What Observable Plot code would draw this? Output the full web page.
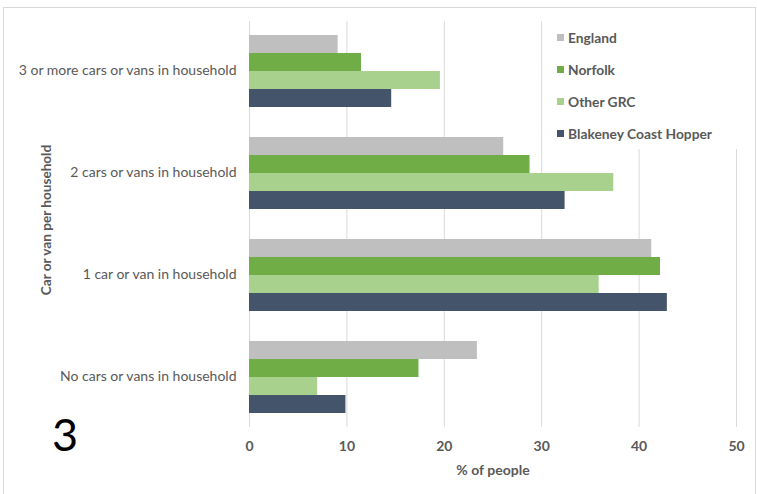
<!DOCTYPE html>
<html><head><meta charset="utf-8">
<script src="https://cdn.jsdelivr.net/npm/d3@7"></script>
<script src="https://cdn.jsdelivr.net/npm/@observablehq/plot@0.6"></script>
<style>
body{margin:0;background:#fff;}
#wrap{position:relative;width:757px;height:494px;overflow:hidden;font-family:Lato, "Open Sans", sans-serif;background:#fff;}
#wrap svg{position:absolute;left:0;top:0;}
#frame{position:absolute;left:3px;top:7px;width:753px;height:500px;border:1px solid #d9d9d9;box-sizing:border-box;}
#ytitle{position:absolute;left:46px;top:220px;transform:translate(-50%,-50%) rotate(-90deg);white-space:nowrap;font-weight:bold;font-size:13.6px;color:#595959;}
#legend{position:absolute;left:547px;top:21px;width:200px;height:128px;background:#fff;}
.li{height:32px;display:flex;align-items:center;padding-left:10px;font-size:13.8px;font-weight:bold;color:#595959;}
.sw{width:7px;height:7px;margin-right:4px;}
#big{position:absolute;left:52px;top:412px;font-size:45px;line-height:45px;color:#000;}
</style></head><body><div id="wrap"><div id="frame"></div></div>
<script>
const categories = ["3 or more cars or vans in household","2 cars or vans in household","1 car or van in household","No cars or vans in household"];
const seriesNames = ["England","Norfolk","Other GRC","Blakeney Coast Hopper"];
const seriesColors = ["#bfbfbf","#70ad47","#a9d18e","#44546a"];
const england  = [9.1, 26.1, 41.3, 23.4];
const norfolk  = [11.5, 28.8, 42.2, 17.4];
const otherGRC = [19.6, 37.4, 35.9, 7.0];
const blakeney = [14.6, 32.4, 42.9, 9.9];
const xTicks = [0, 10, 20, 30, 40, 50];
const xLabel = "% of people";
const yTitle = "Car or van per household";
const panelNumber = "3";

const seriesValues = [england, norfolk, otherGRC, blakeney];
const data = categories.flatMap((c, i) => seriesNames.map((s, j) => ({category: c, series: s, value: seriesValues[j][i]})));

const common = {width: 757, height: 494, marginLeft: 249, marginRight: 21, marginTop: 21, marginBottom: 67,
  style: {background: "transparent", fontFamily: "Lato, 'Open Sans', sans-serif"}};

const wrap = document.getElementById("wrap");

const gridPlot = Plot.plot({...common,
  x: {domain: [0, 50]},
  marks: [
    Plot.gridX(xTicks, {stroke: "#d9d9d9", strokeOpacity: 1, strokeWidth: 1}),
    Plot.axisX(xTicks, {tickSize: 0, tickPadding: 14, fontSize: 14, fontWeight: "bold", fill: "#595959",
      label: xLabel, labelAnchor: "center", labelOffset: 47, labelArrow: "none"})
  ]
});
wrap.appendChild(gridPlot);

const legend = document.createElement("div");
legend.id = "legend";
seriesNames.forEach((s, j) => {
  const row = document.createElement("div");
  row.className = "li";
  const sw = document.createElement("span");
  sw.className = "sw";
  sw.style.background = seriesColors[j];
  row.appendChild(sw);
  row.appendChild(document.createTextNode(s));
  legend.appendChild(row);
});
wrap.appendChild(legend);

const barPlot = Plot.plot({...common,
  x: {domain: [0, 50], axis: null},
  y: {domain: seriesNames, padding: 0, axis: null},
  fy: {domain: categories, paddingInner: 0.284, paddingOuter: 0.132, label: null},
  color: {domain: seriesNames, range: seriesColors},
  marks: [
    Plot.barX(data, {x: "value", y: "series", fy: "category", fill: "series"}),
    Plot.axisFy({anchor: "left", tickSize: 0, tickPadding: 13, fontSize: 14, fill: "#595959", label: null})
  ]
});
wrap.appendChild(barPlot);

const yt = document.createElement("div");
yt.id = "ytitle"; yt.textContent = yTitle; wrap.appendChild(yt);
const big = document.createElement("div");
big.id = "big"; big.textContent = panelNumber; wrap.appendChild(big);
</script>
</body></html>
